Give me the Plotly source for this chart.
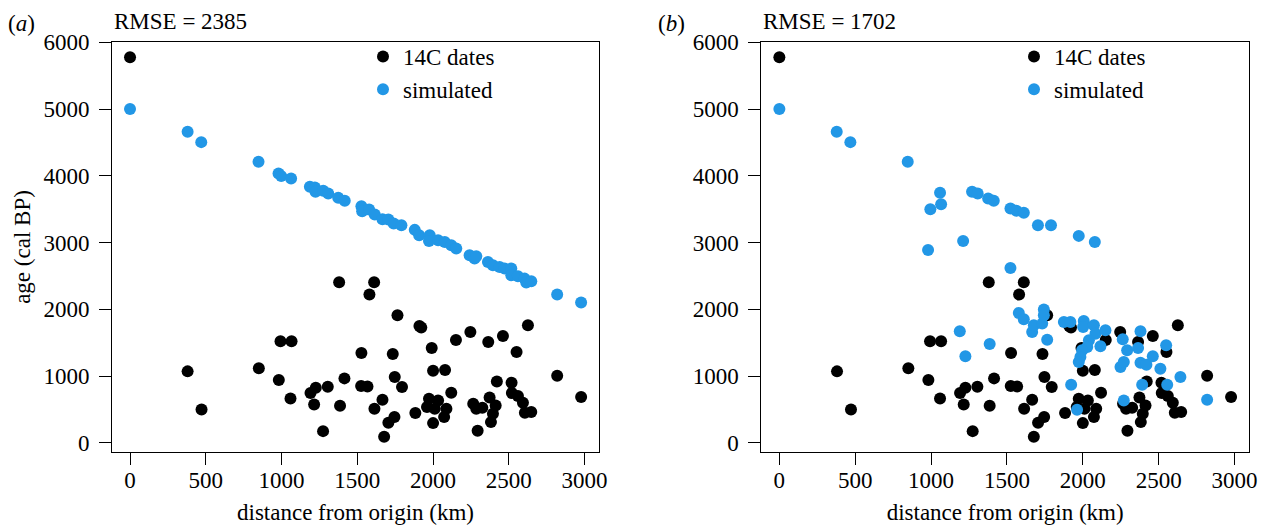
import plotly.graph_objects as go

# ---- data ----
dates_dist = [0, 380, 472, 850, 982, 993, 1066, 1059, 1191, 1226, 1215, 1305, 1274, 1380, 1415,
              1386, 1527, 1525, 1567, 1611, 1580, 1666, 1613, 1705, 1745, 1677, 1765, 1734, 1747,
              1795, 1883, 1910, 1922, 1991, 2000, 2079, 1973, 2033, 1960, 2088, 2000, 2073, 2011,
              2120, 2151, 2246, 2265, 2285, 2325, 2294, 2364, 2421, 2373, 2413, 2395, 2382, 2461,
              2518, 2520, 2560, 2593, 2606, 2648, 2551, 2626, 2819, 2977]
dates_age = [5775, 1072, 502, 1117, 942, 1522, 1522, 667, 747, 827, 577, 842, 177, 2406, 967,
             557, 1347, 852, 847, 2406, 2222, 647, 512, 302, 387, 92, 1911, 1332, 987,
             837, 447, 1750, 1730, 1422, 1082, 1092, 662, 637, 537, 512, 297, 387, 512,
             752, 1542, 1662, 587, 512, 527, 182, 1512, 922, 682, 562, 437, 312, 1602,
             902, 747, 702, 602, 452, 462, 1362, 1762, 1007, 687]

simA_dist = [0, 380, 470, 848, 980, 998, 1063, 1187, 1220, 1224, 1275, 1308, 1374, 1417, 1527,
             1532, 1578, 1615, 1666, 1705, 1740, 1791, 1879, 1908, 1978, 1973, 2033, 2077, 2120,
             2153, 2241, 2274, 2285, 2362, 2395, 2439, 2472, 2516, 2516, 2560, 2604, 2615, 2648,
             2819, 2977]
simA_age = [5000, 4660, 4505, 4210, 4036, 3996, 3961, 3836, 3826, 3761, 3776, 3736, 3671, 3626, 3546,
            3471, 3496, 3421, 3351, 3346, 3286, 3261, 3191, 3111, 3111, 3026, 3036, 3011, 2961,
            2911, 2811, 2761, 2796, 2711, 2661, 2636, 2611, 2611, 2511, 2496, 2461, 2401, 2421,
            2222, 2102]

simB_dist = [0, 378, 468, 846, 995, 1059, 1066, 980, 1211, 1270, 1307, 1376, 1413, 1523, 1562,
             1611, 1704, 1790, 1973, 2079, 1523, 1189, 1226, 1386, 1578, 1611, 1666, 1677, 1732,
             1743, 1743, 1765, 1875, 1918, 2006, 2002, 2073, 2083, 2040, 2029, 1995, 1984, 1973,
             2116, 2149, 1923, 1962, 2263, 2292, 2248, 2270, 2380, 2364, 2380, 2419, 2461, 2511,
             2549, 2391, 2556, 2643, 2270, 2819]
simB_age = [5000, 4660, 4505, 4210, 3501, 3746, 3576, 2891, 3026, 3761, 3736, 3661, 3626, 3511, 3476,
            3446, 3261, 3261, 3101, 3011, 2621, 1672, 1297, 1482, 1947, 1852, 1662, 1762, 1787,
            1997, 1911, 1547, 1812, 1812, 1827, 1737, 1762, 1637, 1537, 1437, 1387, 1287, 1212,
            1447, 1687, 872, 497, 1552, 1387, 1137, 1212, 1672, 1422, 1202, 1172, 1297, 1112,
            1462, 872, 872, 987, 637, 647]

x_ticks = [0, 500, 1000, 1500, 2000, 2500, 3000]
y_ticks = [0, 1000, 2000, 3000, 4000, 5000, 6000]
panel_labels = ["(<i>a</i>)", "(<i>b</i>)"]
rmse_labels = ["RMSE = 2385", "RMSE = 1702"]
series_names = ["14C dates", "simulated"]

BLACK = "#000000"
BLUE = "#2297E6"
FONT = "Liberation Serif, Times New Roman, serif"
FS = 23
W, H = 1268, 525

fig = go.Figure()
panels = [("x", "y", "legend", simA_dist, simA_age), ("x2", "y2", "legend2", simB_dist, simB_age)]
for xa, ya, lg, sd, sa in panels:
    fig.add_trace(go.Scatter(x=dates_dist, y=dates_age, mode="markers", name=series_names[0],
                             marker=dict(color=BLACK, size=12, line=dict(width=0)),
                             xaxis=xa, yaxis=ya, legend=lg))
    fig.add_trace(go.Scatter(x=sd, y=sa, mode="markers", name=series_names[1],
                             marker=dict(color=BLUE, size=12, line=dict(width=0)),
                             xaxis=xa, yaxis=ya, legend=lg))

def px(x):
    return x / W

def py(y):
    return 1 - y / H

dom_y = [py(451.7), py(42.3)]
dom_xa = [px(112), px(599)]
dom_xb = [px(761.3), px(1249)]

tfont = dict(family=FONT, size=FS, color=BLACK)
axis_common = dict(showline=True, linecolor=BLACK, linewidth=1, mirror=True,
                   ticks="outside", ticklen=12, tickwidth=1, tickcolor=BLACK,
                   showgrid=False, zeroline=False, automargin=False,
                   tickfont=tfont)
xcommon = dict(axis_common, range=[-119, 3095], tickvals=x_ticks,
               ticktext=[str(v) for v in x_ticks], ticklabelstandoff=-4)
ycommon = dict(axis_common, range=[-131, 6000], tickvals=y_ticks,
               ticktext=[str(v) for v in y_ticks], ticklabelstandoff=5)

xt = dict(text="distance from origin (km)", font=tfont, standoff=11)

fig.update_layout(
    template="none",
    width=W, height=H,
    margin=dict(l=0, r=0, t=0, b=0, autoexpand=False),
    paper_bgcolor="white", plot_bgcolor="white",
    font=tfont,
    xaxis=dict(xcommon, domain=dom_xa, anchor="y", title=xt),
    yaxis=dict(ycommon, domain=dom_y, anchor="x",
               title=dict(text="age (cal BP)", font=tfont, standoff=6)),
    xaxis2=dict(xcommon, domain=dom_xb, anchor="y2", title=xt),
    yaxis2=dict(ycommon, domain=dom_y, anchor="x2"),
    legend=dict(x=px(363), y=py(35), xanchor="left", yanchor="top",
                font=tfont, bgcolor="rgba(0,0,0,0)", borderwidth=0,
                itemwidth=30, tracegroupgap=0),
    legend2=dict(x=px(1014), y=py(35), xanchor="left", yanchor="top",
                 font=tfont, bgcolor="rgba(0,0,0,0)", borderwidth=0,
                 itemwidth=30, tracegroupgap=0),
    showlegend=True,
)

for i, (xl, xt0) in enumerate([(21.5, 112), (671, 761.3)]):
    fig.add_annotation(text=panel_labels[i], x=px(xl), y=py(24), xref="paper", yref="paper",
                       xanchor="center", yanchor="middle", showarrow=False, font=tfont)
    fig.add_annotation(text=rmse_labels[i], x=px(xt0), y=py(22), xref="paper", yref="paper",
                       xanchor="left", yanchor="middle", showarrow=False, font=tfont)

fig.write_html("out.html", config={"displayModeBar": False},
               post_script="document.body.style.margin='0px';document.body.style.overflow='hidden';")
